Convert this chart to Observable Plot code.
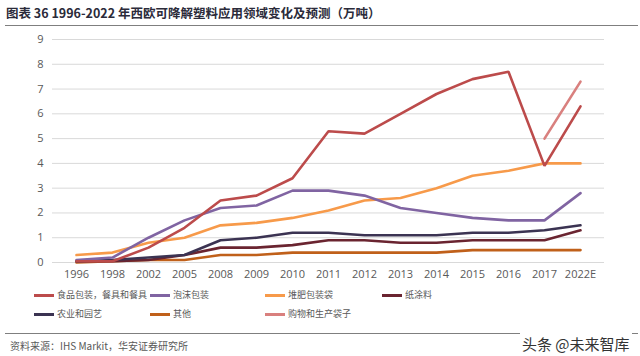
<!DOCTYPE html>
<html><head><meta charset="utf-8">
<script src="https://cdn.jsdelivr.net/npm/d3@7"></script>
<script src="https://cdn.jsdelivr.net/npm/@observablehq/plot@0.6"></script>
<style>
html,body{margin:0;padding:0;background:#fff;}
#wrap{position:relative;width:640px;height:356px;overflow:hidden;font-family:"Noto Sans CJK SC","Noto Sans",sans-serif;}
#title{position:absolute;left:6px;top:3px;font-size:12.5px;font-weight:bold;color:#2b2b3a;white-space:nowrap;}
#rule1{position:absolute;left:5px;top:25px;width:633px;height:1px;background:#7f7f7f;}
#chart{position:absolute;left:0;top:30px;}
#legend{position:absolute;left:0;top:289px;width:640px;height:40px;}
.li{position:absolute;font-size:9px;color:#595959;white-space:nowrap;display:flex;align-items:center;line-height:12px;}
.sw{display:inline-block;width:20px;height:3px;margin-right:3px;}
#rule2{position:absolute;left:5px;top:333px;width:633px;height:1px;background:#7f7f7f;}
#source{position:absolute;left:10px;top:338px;font-size:10px;color:#595959;white-space:nowrap;}
#wm{position:absolute;left:520px;top:333px;font-size:15px;color:#333;white-space:nowrap;background:#fff;padding:0 2px;}
</style></head>
<body><div id="wrap">
<div id="title">图表 36 1996-2022 年西欧可降解塑料应用领域变化及预测（万吨）</div>
<div id="rule1"></div>
<div id="chart"></div>
<div id="legend"></div>
<div id="rule2"></div>
<div id="source">资料来源：IHS Markit，华安证券研究所</div>
<div id="wm">头条 @未来智库</div>
</div>
<script>
const years = ["1996","1998","2002","2005","2008","2009","2010","2011","2012","2013","2014","2015","2016","2017","2022E"];
const seriesNames = ["食品包装，餐具和餐具","泡沫包装","堆肥包装袋","纸涂料","农业和园艺","其他","购物和生产袋子"];
const seriesColors = ["#bc4b4b","#8064a2","#f79a4a","#6a2430","#3b3352","#c0601a","#d9807e"];
const food        = [0.05,0.05,0.6,1.4,2.5,2.7,3.4,5.3,5.2,6.0,6.8,7.4,7.7,3.9,6.3];
const foam        = [0.1,0.2,1.0,1.7,2.2,2.3,2.9,2.9,2.7,2.2,2.0,1.8,1.7,1.7,2.8];
const compost     = [0.3,0.4,0.8,1.0,1.5,1.6,1.8,2.1,2.5,2.6,3.0,3.5,3.7,4.0,4.0];
const paper       = [0.05,0.05,0.1,0.3,0.6,0.6,0.7,0.9,0.9,0.8,0.8,0.9,0.9,0.9,1.3];
const agriculture = [0.05,0.1,0.2,0.3,0.9,1.0,1.2,1.2,1.1,1.1,1.1,1.2,1.2,1.3,1.5];
const other       = [0.0,0.05,0.1,0.1,0.3,0.3,0.4,0.4,0.4,0.4,0.4,0.5,0.5,0.5,0.5];
const shopping    = [null,null,null,null,null,null,null,null,null,null,null,null,null,5.0,7.3];
const yTicks = [0,1,2,3,4,5,6,7,8,9];

const allSeries = [food,foam,compost,paper,agriculture,other,shopping];
const rows = [];
allSeries.forEach((arr,si)=>arr.forEach((v,i)=>{ if(v!=null) rows.push({year:years[i],value:v,series:seriesNames[si]}); }));

const order = [5,3,4,2,1,0,6];
const marks = [Plot.gridY(yTicks,{stroke:"#d9d9d9",strokeOpacity:1,strokeWidth:1})];
order.forEach(si=>{
  marks.push(Plot.line(rows.filter(r=>r.series===seriesNames[si]),{x:"year",y:"value",stroke:seriesColors[si],strokeWidth:2.6,strokeLinejoin:"miter"}));
});
marks.push(Plot.axisY(yTicks,{tickSize:0,tickPadding:9,fontSize:11,fill:"#595959",tickFormat:d=>d}));
marks.push(Plot.axisX(years,{tickSize:0,tickPadding:8,fontSize:11,fill:"#595959"}));

const chart = Plot.plot({
  width:640,height:250,
  marginLeft:52,marginRight:36,marginTop:9,marginBottom:18,
  style:{fontFamily:"'Open Sans','Noto Sans',sans-serif",background:"transparent"},
  x:{type:"point",domain:years,padding:0.5,label:null},
  y:{domain:[0,9],label:null},
  marks
});
document.getElementById("chart").appendChild(chart);

const legend = document.getElementById("legend");
const pos = [[34,0],[150,0],[265,0],[382,0],[34,19],[150,19],[265,19]];
seriesNames.forEach((n,i)=>{
  const d=document.createElement("div");d.className="li";
  d.style.left=pos[i][0]+"px";d.style.top=pos[i][1]+"px";
  d.innerHTML=`<span class="sw" style="background:${seriesColors[i]}"></span>${n}`;
  legend.appendChild(d);
});
</script>
</body></html>
